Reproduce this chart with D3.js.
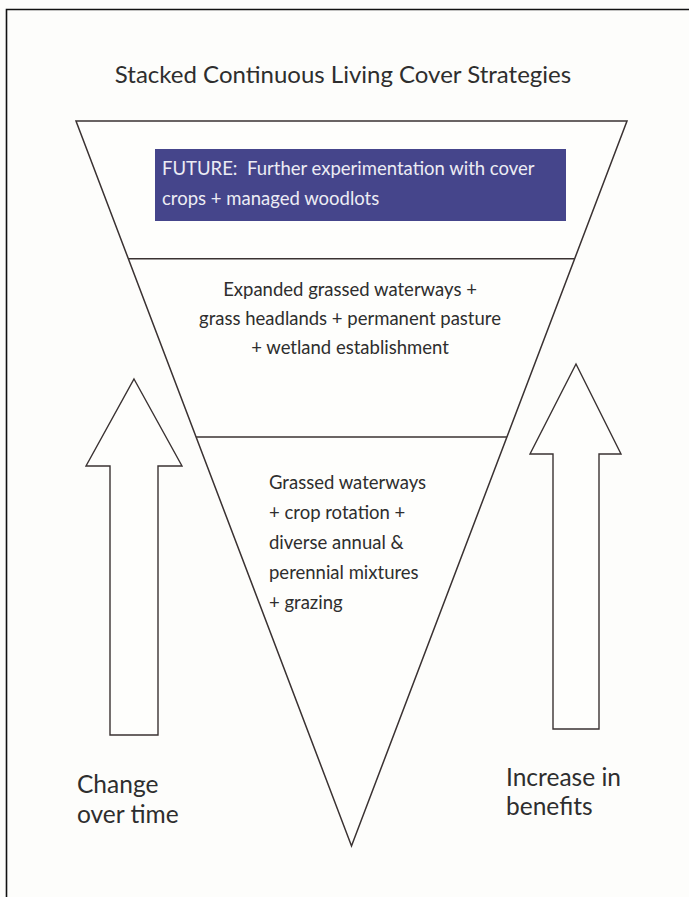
<!DOCTYPE html>
<html><head><meta charset="utf-8">
<script src="https://cdn.jsdelivr.net/npm/d3@7"></script>
<style>
html,body{margin:0;padding:0;background:#fdfdfb;}
svg{display:block;}
</style></head>
<body>
<script>
// ---- data ----
const title = "Stacked Continuous Living Cover Strategies";
const tierBounds = [0, 0.19, 0.436, 1];           // depth fraction of funnel where tiers start/end
const futureLines = ["FUTURE:  Further experimentation with cover", "crops + managed woodlots"];
const middleLines = ["Expanded grassed waterways +", "grass headlands + permanent pasture", "+ wetland establishment"];
const bottomLines = ["Grassed waterways", "+ crop rotation +", "diverse annual &", "perennial mixtures", "+ grazing"];
const leftLabel = ["Change", "over time"];
const rightLabel = ["Increase in", "benefits"];

const W = 689, H = 897;
const svg = d3.select("body").append("svg").attr("width", W).attr("height", H);
svg.append("rect").attr("width", W).attr("height", H).attr("fill", "#fdfdfb");

// frame (only top & left edges visible)
svg.append("path").attr("d", `M6.5,${H+5} L6.5,9.5 L${W+5},9.5`).attr("fill","none").attr("stroke","#111").attr("stroke-width",1.6);

const font = "Lato, 'Open Sans', sans-serif";
const ink = "#3a3232";
const txt = "#2e2e2e";

svg.append("text").attr("x", 343).attr("y", 83).attr("text-anchor","middle")
  .attr("font-family", font).attr("font-size", 24).attr("fill", txt).text(title);

// funnel scales
const cx = 351.5;
const y = d3.scaleLinear().domain([0,1]).range([121, 846]);
const hw = d3.scaleLinear().domain([0,1]).range([275.5, 0]);

const funnel = [[cx-hw(0), y(0)], [cx+hw(0), y(0)], [cx, y(1)]];
svg.append("path").attr("d", d3.line()(funnel) + "Z").attr("fill","#fefefc")
  .attr("stroke", ink).attr("stroke-width", 1.5).attr("stroke-linejoin","miter");

tierBounds.slice(1, -1).forEach(t => {
  svg.append("line").attr("x1", cx-hw(t)).attr("x2", cx+hw(t)).attr("y1", y(t)).attr("y2", y(t))
    .attr("stroke", ink).attr("stroke-width", 1.5);
});

// future box
svg.append("rect").attr("x", 155).attr("y", 149).attr("width", 411).attr("height", 72).attr("fill", "#45458b");
svg.selectAll("text.fut").data(futureLines).join("text").attr("class","fut")
  .attr("x", 162).attr("y", (d,i) => 175 + i*30)
  .attr("font-family", font).attr("font-size", 18.5).attr("fill", "#ececf4")
  .style("white-space","pre").text(d => d);

svg.selectAll("text.mid").data(middleLines).join("text").attr("class","mid")
  .attr("x", 350).attr("y", (d,i) => 296 + i*29).attr("text-anchor","middle")
  .attr("font-family", font).attr("font-size", 18.5).attr("fill", txt).text(d => d);

svg.selectAll("text.bot").data(bottomLines).join("text").attr("class","bot")
  .attr("x", 269).attr("y", (d,i) => 489 + i*30)
  .attr("font-family", font).attr("font-size", 18.5).attr("fill", txt).text(d => d);

// arrows
function arrow(tipX, tipY, headY, headL, headR, shaftL, shaftR, bottom) {
  const pts = [[tipX,tipY],[headR,headY],[shaftR,headY],[shaftR,bottom],[shaftL,bottom],[shaftL,headY],[headL,headY]];
  svg.append("path").attr("d", d3.line()(pts)+"Z").attr("fill","#fefefc")
    .attr("stroke", ink).attr("stroke-width", 1.4).attr("stroke-linejoin","miter");
}
arrow(134, 379, 466, 86, 182, 110, 158, 735);
arrow(576, 364, 454, 530, 621, 553, 599, 729);

svg.selectAll("text.ll").data(leftLabel).join("text").attr("class","ll")
  .attr("x", 77).attr("y", (d,i) => 793 + i*30)
  .attr("font-family", font).attr("font-size", 24.5).attr("fill", txt).text(d => d);
svg.selectAll("text.rl").data(rightLabel).join("text").attr("class","rl")
  .attr("x", 506).attr("y", (d,i) => 786 + i*29)
  .attr("font-family", font).attr("font-size", 24.5).attr("fill", txt).text(d => d);
</script>
</body></html>
